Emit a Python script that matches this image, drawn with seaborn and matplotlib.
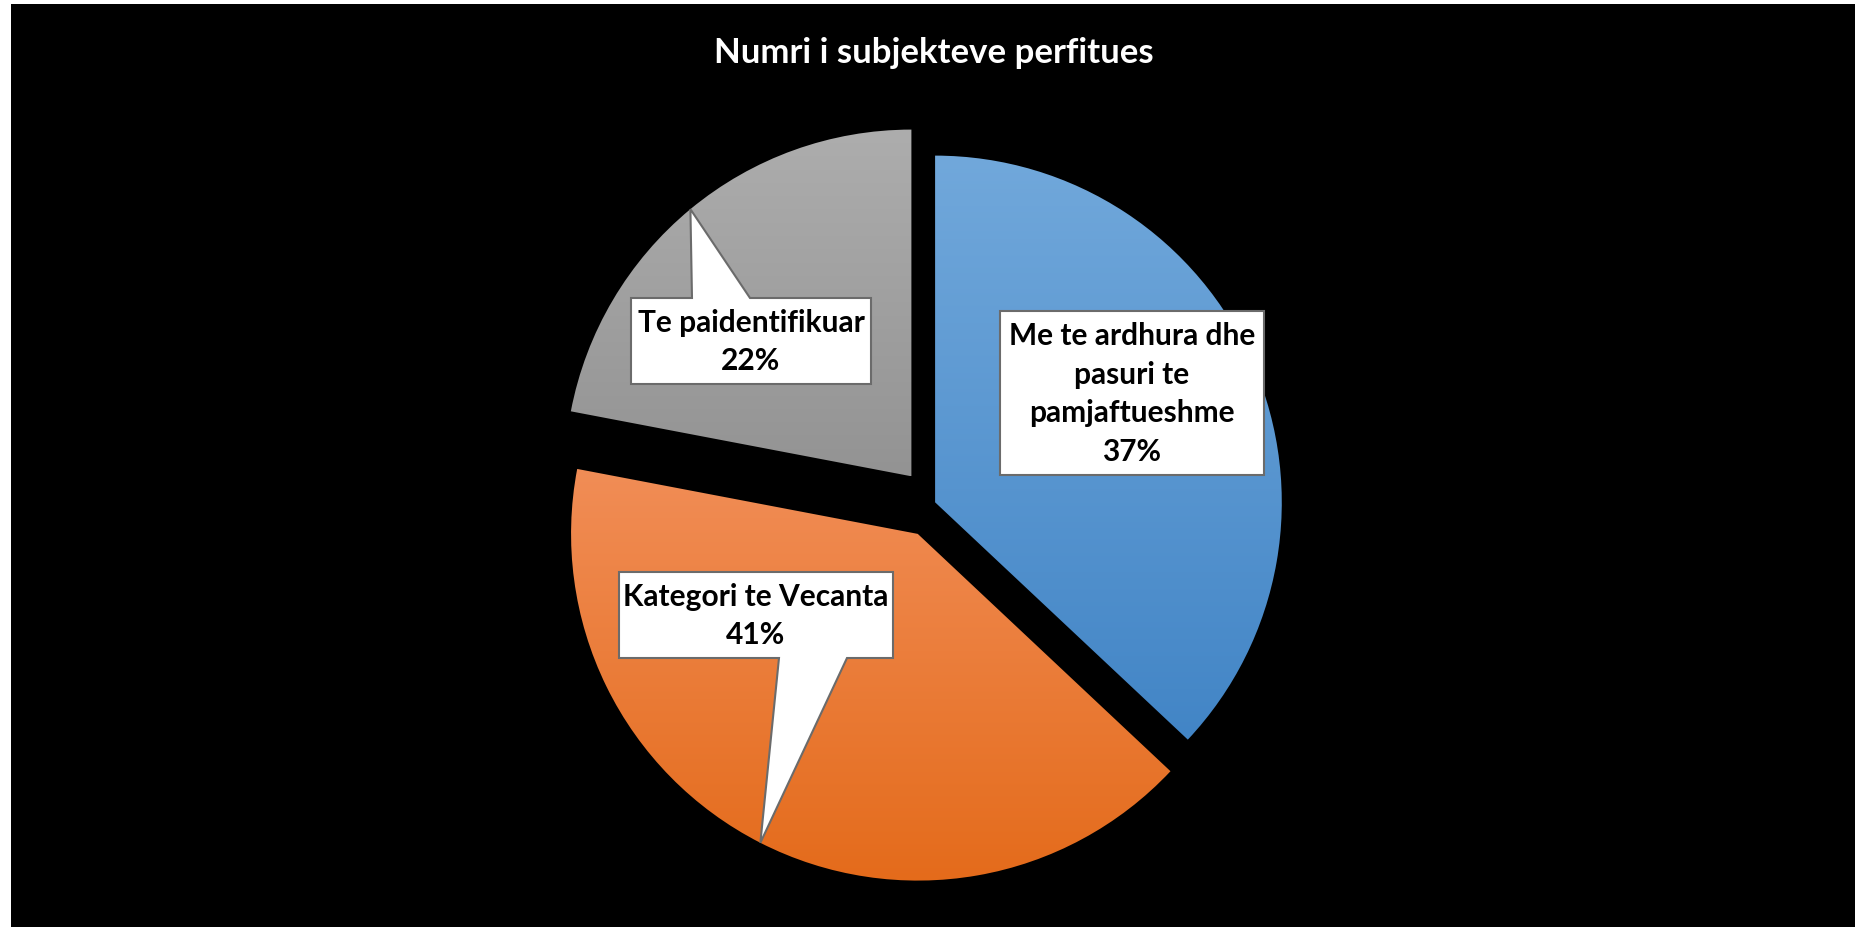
import numpy as np
import matplotlib
matplotlib.use("Agg")
import matplotlib.pyplot as plt
import seaborn as sns
from matplotlib.colors import LinearSegmentedColormap
from matplotlib.patches import Polygon, Rectangle

sns.set_theme(style="white")
plt.rcParams['font.family'] = ['Lato', 'DejaVu Sans']

# data
categories = ["Me te ardhura dhe\npasuri te\npamjaftueshme", "Kategori te Vecanta", "Te paidentifikuar"]
shares = [37, 41, 22]
explode_frac = [0.005, 0.1, 0.1]
top_colors = ["#71a8db", "#f18d56", "#adadad"]
bottom_colors = ["#4285c6", "#e46b1b", "#939393"]
title = "Numri i subjekteve perfitues"

# label boxes: centre x, centre y (pixels from bottom), width, height, pointer side
boxes = [
    (1132, 928 - 394, 264, 164, None),
    (756, 928 - 616, 274, 86, "bottom"),
    (751, 928 - 342, 240, 86, "top"),
]
pointer_base = [0, 68, 58]
pointer_offset = [0, 57, -30]

W, H = 1855, 928
fig = plt.figure(figsize=(W / 100, H / 100), dpi=100, facecolor="white")
fig.add_artist(Rectangle((11 / W, 0), 1, (H - 5) / H, transform=fig.transFigure,
                         facecolor="black", edgecolor="none", zorder=0))
ax = fig.add_axes([0, 0, 1, 1])

radius = 346.7
center = (933.5, H - 504)
# pie's explode is in data units, so scale by the radius
wedges, _ = ax.pie(shares, explode=[e * radius for e in explode_frac], startangle=90,
                   counterclock=False, center=center, radius=radius, frame=True,
                   wedgeprops=dict(linewidth=0))
ax.set_xlim(0, W)
ax.set_ylim(0, H)
ax.set_aspect("equal")
ax.axis("off")

grad = np.linspace(0, 1, 256).reshape(-1, 1)
for w, c0, c1 in zip(wedges, top_colors, bottom_colors):
    w.set_facecolor("none")
    cx, cy = w.center
    x0, x1 = cx - w.r, cx + w.r
    # vertical extent of the slice
    th = np.radians(np.linspace(w.theta1, w.theta2, 200))
    ys = np.concatenate([cy + w.r * np.sin(th), [cy]])
    y0, y1 = ys.min(), ys.max()
    cmap = LinearSegmentedColormap.from_list("g", [c0, c1])
    im = ax.imshow(grad, cmap=cmap, extent=(x0, x1, y0, y1), origin="upper",
                   aspect="auto", zorder=1, interpolation="bicubic")
    im.set_clip_path(w)

# callout labels
for i, (w, cat, val) in enumerate(zip(wedges, categories, shares)):
    bx, by, bw, bh, side = boxes[i]
    L, R, B, T = bx - bw / 2, bx + bw / 2, by - bh / 2, by + bh / 2
    if side is None:
        pts = [(L, B), (R, B), (R, T), (L, T)]
    else:
        mid = np.radians((w.theta1 + w.theta2) / 2)
        tip = (w.center[0] + w.r * np.cos(mid), w.center[1] + w.r * np.sin(mid))
        b1 = bx + pointer_offset[i] - pointer_base[i] / 2
        b2 = bx + pointer_offset[i] + pointer_base[i] / 2
        if side == "top":
            pts = [(L, B), (R, B), (R, T), (b2, T), tip, (b1, T), (L, T)]
        else:
            pts = [(L, B), (b1, B), tip, (b2, B), (R, B), (R, T), (L, T)]
    ax.add_patch(Polygon(pts, closed=True, facecolor="white", edgecolor="#6b6b6b",
                         linewidth=1.5, zorder=3))
    ax.text(bx, by, f"{cat}\n{val}%", ha="center", va="center", fontsize=21.5,
            fontweight="bold", color="black", linespacing=1.45, zorder=4)

ax.text(934, H - 53, title, ha="center", va="center", fontsize=25,
        fontweight="bold", color="white", zorder=4)

fig.savefig("out.png", dpi=100, facecolor=fig.get_facecolor())
